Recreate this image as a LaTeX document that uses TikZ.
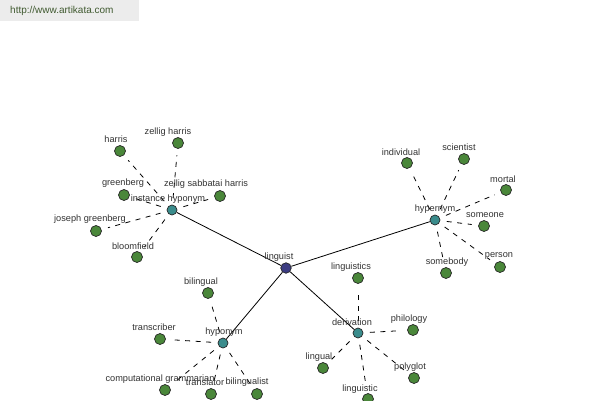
\documentclass[tikz,border=0pt]{standalone}
\usepackage{fontspec}
\setmainfont{Liberation Sans}
\usetikzlibrary{backgrounds}
\definecolor{leafgreen}{RGB}{74,135,58}
\definecolor{hubteal}{RGB}{58,140,140}
\definecolor{centerblue}{RGB}{60,60,130}
\definecolor{labelgray}{RGB}{50,50,50}
\definecolor{wmgray}{RGB}{236,236,236}
\definecolor{wmtext}{RGB}{64,90,48}
\tikzset{
  leaf/.style={circle, draw=black!85, fill=leafgreen, minimum size=11pt, inner sep=0pt, line width=0.7pt},
  hub/.style={circle, draw=black!85, fill=hubteal, minimum size=10pt, inner sep=0pt, line width=0.7pt},
  root/.style={circle, draw=black!85, fill=centerblue, minimum size=10.5pt, inner sep=0pt, line width=0.7pt},
  lbl/.style={inner sep=0pt, text=labelgray, font=\fontsize{9.2}{10}\selectfont},
  solidedge/.style={draw=black, line width=0.8pt},
  dashedge/.style={draw=black, line width=0.8pt, dash pattern=on 5pt off 5.5pt, shorten >=6.5pt, shorten <=6.5pt}
}
\begin{document}
\begin{tikzpicture}[x=1pt,y=-1pt]
\useasboundingbox (0,0) rectangle (600,400);
% watermark
\fill[wmgray] (0,0) rectangle (139,21);
\node[anchor=west, inner sep=0pt, text=wmtext, font=\fontsize{10}{11}\selectfont] (wm) at (10,11) {http://www.artikata.com};

% center
\node[root] (linguist) at (286,268) {};
\node[lbl] (Llinguist) at (279,257) {linguist};

% hubs
\node[hub] (ih) at (172,210) {};
\node[lbl] (Lih) at (168,199) {instance hyponym};
\node[hub] (hyper) at (435,220) {};
\node[lbl] (Lhyper) at (435,209) {hypernym};
\node[hub] (hypo) at (223,343) {};
\node[lbl] (Lhypo) at (224,332) {hyponym};
\node[hub] (deriv) at (358,333) {};
\node[lbl] (Lderiv) at (352,322) {derivation};

% instance hyponym leaves
\node[leaf] (harris) at (120,151) {};
\node[lbl] (Lharris) at (116,139) {harris};
\node[leaf] (zh) at (178,143) {};
\node[lbl] (Lzh) at (168,132) {zellig harris};
\node[leaf] (greenberg) at (124,195) {};
\node[lbl] (Lgreenberg) at (123,183) {greenberg};
\node[leaf] (zsh) at (220,196) {};
\node[lbl] (Lzsh) at (206,184) {zellig sabbatai harris};
\node[leaf] (jg) at (96,231) {};
\node[lbl] (Ljg) at (90,219) {joseph greenberg};
\node[leaf] (bloomfield) at (137,257) {};
\node[lbl] (Lbloomfield) at (133,246) {bloomfield};

% hypernym leaves
\node[leaf] (individual) at (407,163) {};
\node[lbl] (Lindividual) at (401,152) {individual};
\node[leaf] (scientist) at (464,159) {};
\node[lbl] (Lscientist) at (459,147) {scientist};
\node[leaf] (mortal) at (506,190) {};
\node[lbl] (Lmortal) at (503,179) {mortal};
\node[leaf] (someone) at (484,226) {};
\node[lbl] (Lsomeone) at (485,215) {someone};
\node[leaf] (person) at (500,267) {};
\node[lbl] (Lperson) at (499,256) {person};
\node[leaf] (somebody) at (446,273) {};
\node[lbl] (Lsomebody) at (447,262) {somebody};

% hyponym leaves
\node[leaf] (bilingual) at (208,293) {};
\node[lbl] (Lbilingual) at (201,282) {bilingual};
\node[leaf] (transcriber) at (160,339) {};
\node[lbl] (Ltranscriber) at (154,327) {transcriber};
\node[leaf] (cg) at (165,390) {};
\node[lbl] (Lcg) at (160,379) {computational grammarian};
\node[leaf] (translator) at (211,394) {};
\node[lbl] (Ltranslator) at (205,382) {translator};
\node[leaf] (bilingualist) at (257,394) {};
\node[lbl] (Lbilingualist) at (247,382) {bilingualist};

% derivation leaves
\node[leaf] (linguistics) at (358,278) {};
\node[lbl] (Llinguistics) at (351,267) {linguistics};
\node[leaf] (philology) at (413,330) {};
\node[lbl] (Lphilology) at (409,319) {philology};
\node[leaf] (lingual) at (323,368) {};
\node[lbl] (Llingual) at (319,357) {lingual};
\node[leaf] (polyglot) at (414,378) {};
\node[lbl] (Lpolyglot) at (410,367) {polyglot};
\node[leaf] (linguistic) at (368,399) {};
\node[lbl] (Llinguistic) at (360,389) {linguistic};

\begin{pgfonlayer}{background}
\draw[solidedge] (linguist) -- (ih);
\draw[solidedge] (linguist) -- (hyper);
\draw[solidedge] (linguist) -- (hypo);
\draw[solidedge] (linguist) -- (deriv);
\foreach \t in {harris,zh,greenberg,zsh,jg,bloomfield}
  \draw[dashedge] (ih) -- (\t);
\foreach \t in {individual,scientist,mortal,someone,person,somebody}
  \draw[dashedge] (hyper) -- (\t);
\foreach \t in {bilingual,transcriber,cg,translator,bilingualist}
  \draw[dashedge] (hypo) -- (\t);
\foreach \t in {linguistics,philology,lingual,polyglot,linguistic}
  \draw[dashedge] (deriv) -- (\t);
\end{pgfonlayer}
\end{tikzpicture}
\end{document}
